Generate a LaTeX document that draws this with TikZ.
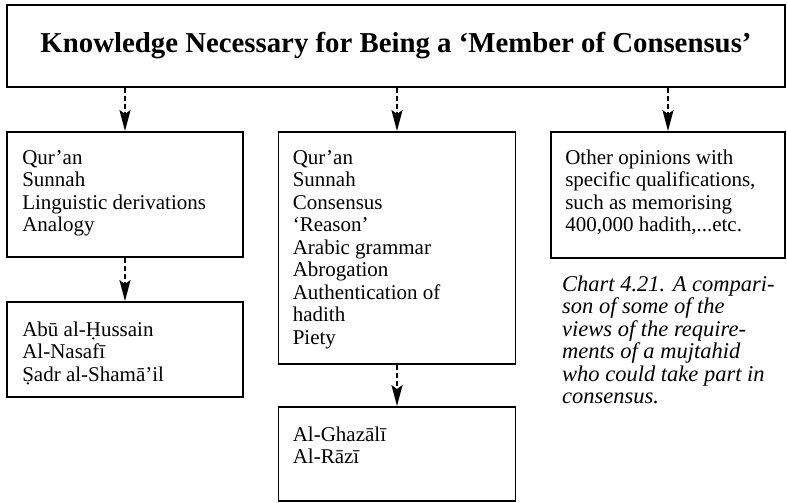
\documentclass[tikz,border=0pt]{standalone}
\usepackage{fontspec}
\setmainfont{Liberation Serif}
\usetikzlibrary{arrows.meta}
\newcommand\mylines[1]{\begin{tabular}[t]{@{}l@{}}#1\end{tabular}}
\begin{document}
\begin{tikzpicture}[x=1pt,y=-1pt,
  box/.style={draw,line width=1.8pt,rectangle,inner sep=0pt},
  txt/.style={anchor=base west,inner sep=0pt,font=\fontsize{21}{22.5}\selectfont},
  captxt/.style={anchor=base west,inner sep=0pt,font=\fontsize{22.5}{22.5}\selectfont\itshape},
  arr/.style={line width=1.8pt,dash pattern=on 5pt off 3pt,-{Stealth[length=21pt,width=11pt,inset=4pt]}}]
\useasboundingbox (0,0) rectangle (787,503);
% boxes
\node[box,minimum width=778pt,minimum height=82pt,font=\fontsize{28.8}{30}\selectfont\bfseries] (top) at (396,46) {Knowledge Necessary for Being a ‘Member of Consensus’};
\node[box,minimum width=236pt,minimum height=125pt] (A) at (125,194.5) {};
\node[box,minimum width=236pt,minimum height=95pt] (B) at (125,349.5) {};
\node[box,minimum width=237pt,minimum height=232pt] (C) at (397,248) {};
\node[box,minimum width=237pt,minimum height=94pt] (D) at (397,454) {};
\node[box,minimum width=234pt,minimum height=126pt] (E) at (668,195) {};
% texts
\node[txt] (tA) at ([xshift=16pt,yshift=-33pt]A.north west) {\mylines{Qur’an\\Sunnah\\Linguistic derivations\\Analogy}};
\node[txt] (tB) at ([xshift=16pt,yshift=-35pt]B.north west) {\mylines{Abū al-Ḥussain\\Al-Nasafī\\Ṣadr al-Shamā’il}};
\node[txt] (tC) at ([xshift=15pt,yshift=-33pt]C.north west) {\mylines{Qur’an\\Sunnah\\Consensus\\‘Reason’\\Arabic grammar\\Abrogation\\Authentication of\\hadith\\Piety}};
\node[txt] (tD) at ([xshift=15pt,yshift=-35pt]D.north west) {\mylines{Al-Ghazālī\\Al-Rāzī}};
\node[txt] (tE) at ([xshift=15pt,yshift=-33pt]E.north west) {\mylines{Other opinions with\\specific qualifications,\\such as memorising\\400,000 hadith,...etc.}};
\node[captxt] (caption) at (562,291) {\mylines{Chart 4.21. A compari-\\son of some of the\\views of the require-\\ments of a mujtahid\\who could take part in\\consensus.}};
% arrows
\draw[arr] (top.south -| A.north) -- (A.north);
\draw[arr] (top.south -| C.north) -- (C.north);
\draw[arr] (top.south -| E.north) -- (E.north);
\draw[arr] (A.south) -- (B.north);
\draw[arr] (C.south) -- (D.north);
\end{tikzpicture}
\end{document}
